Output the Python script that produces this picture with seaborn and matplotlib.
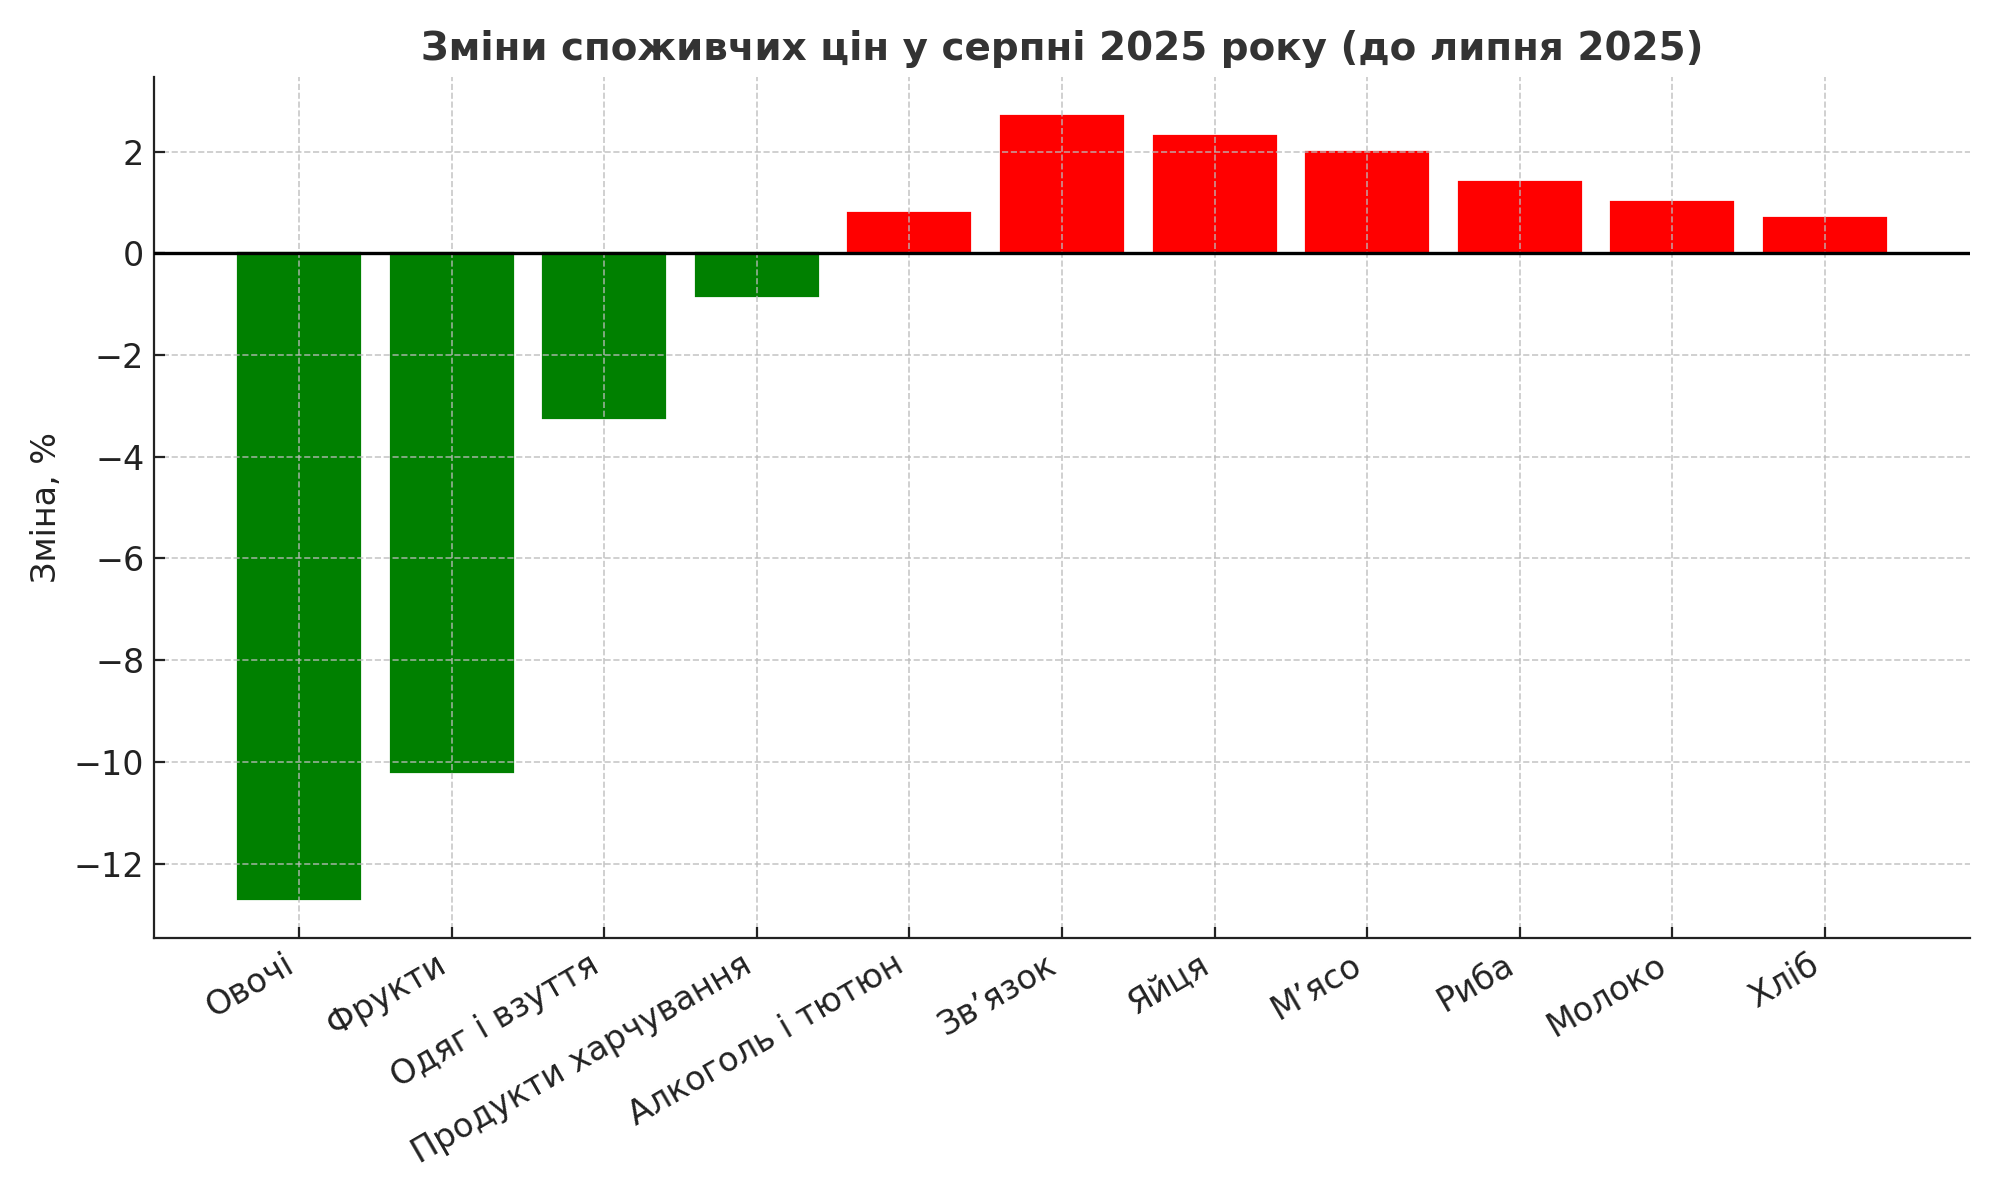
import matplotlib
matplotlib.use("Agg")
import matplotlib.pyplot as plt
import seaborn as sns
import pandas as pd

categories = ["Овочі", "Фрукти", "Одяг і взуття", "Продукти харчування",
              "Алкоголь і тютюн", "Зв’язок", "Яйця", "М’ясо", "Риба",
              "Молоко", "Хліб"]
changes = [-12.7, -10.2, -3.23, -0.84, 0.8, 2.7, 2.3, 2.0, 1.4, 1.0, 0.7]

title = "Зміни споживчих цін у серпні 2025 року (до липня 2025)"
ylabel = "Зміна, %"


def main():
    sns.set_style("white", rc={
        "axes.edgecolor": "#222222",
        "xtick.direction": "in",
        "ytick.direction": "in",
        "xtick.bottom": True,
        "ytick.left": True,
        "axes.spines.top": False,
        "axes.spines.right": False,
    })
    plt.rcParams["font.family"] = ["DejaVu Sans"]

    df = pd.DataFrame({"category": categories, "change": changes})
    df["direction"] = ["down" if v < 0 else "up" for v in changes]

    fig, ax = plt.subplots(figsize=(10, 6), dpi=200)
    sns.barplot(data=df, x="category", y="change", hue="direction",
                palette={"down": "green", "up": "red"}, dodge=False,
                width=0.8, legend=False, ax=ax, saturation=1,
                linewidth=0.8)
    for patch in ax.patches:
        patch.set_edgecolor(patch.get_facecolor())

    ax.axhline(0, color="black", linewidth=1.2, zorder=4)
    ax.grid(True, linestyle="--", color="#bbbbbb", alpha=0.8, linewidth=0.6)
    ax.set_axisbelow(False)
    ax.set_title(title, fontsize=14, fontweight="bold", color="#333333")
    ax.set_xlabel("")
    ax.set_ylabel(ylabel, fontsize=12, color="#222222")
    ax.tick_params(axis="both", labelsize=12, colors="#222222", length=4)
    plt.setp(ax.get_xticklabels(), rotation=30, ha="right")
    ax.set_xlim(-0.95, len(categories) - 0.05)

    fig.subplots_adjust(left=0.077, right=0.985, top=0.936, bottom=0.218)
    fig.savefig("out.png", dpi=200)
    plt.close(fig)


if __name__ == "__main__":
    main()
